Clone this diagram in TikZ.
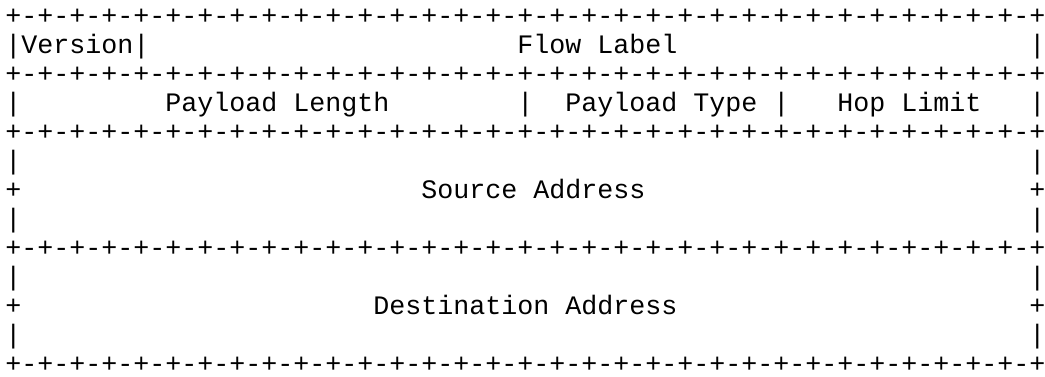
\documentclass[tikz,border=0pt]{standalone}
\usepackage{fontspec}
\newfontfamily\asciifont{Liberation Mono}

\begin{document}
\begin{tikzpicture}[x=0.75pt,y=-0.75pt,
  ascii/.style={font=\asciifont\fontsize{20}{24}\selectfont,inner sep=0pt,anchor=base west}]
% Frame
\useasboundingbox[fill=white] (0,0) rectangle (1045,376);

% Border lines
\foreach \r in {1,3,5,9,13} {
    \node[ascii] (border\r) at (5,{24+29*(\r-1)}) {+-+-+-+-+-+-+-+-+-+-+-+-+-+-+-+-+-+-+-+-+-+-+-+-+-+-+-+-+-+-+-+-+};
}

% Side bars
\foreach \r in {2,4,6,8,10,12} {
    \node[ascii] (left\r) at (5,{24+29*(\r-1)}) {|};
    \node[ascii] (right\r) at (1029,{24+29*(\r-1)}) {|};
}
\foreach \r in {7,11} {
    \node[ascii] (left\r) at (5,{24+29*(\r-1)}) {+};
    \node[ascii] (right\r) at (1029,{24+29*(\r-1)}) {+};
}

% First word
\node[ascii] (version) at (21,53) {Version};
\node[ascii] (sepversion) at (133,53) {|};
\node[ascii] (flow) at (517,53) {Flow Label};

% Second word
\node[ascii] (length) at (165,111) {Payload Length};
\node[ascii] (seplength) at (517,111) {|};
\node[ascii] (type) at (565,111) {Payload Type};
\node[ascii] (septype) at (773,111) {|};
\node[ascii] (hop) at (837,111) {Hop Limit};

% Addresses
\node[ascii] (source) at (421,198) {Source Address};
\node[ascii] (destination) at (373,314) {Destination Address};
\end{tikzpicture}
\end{document}
